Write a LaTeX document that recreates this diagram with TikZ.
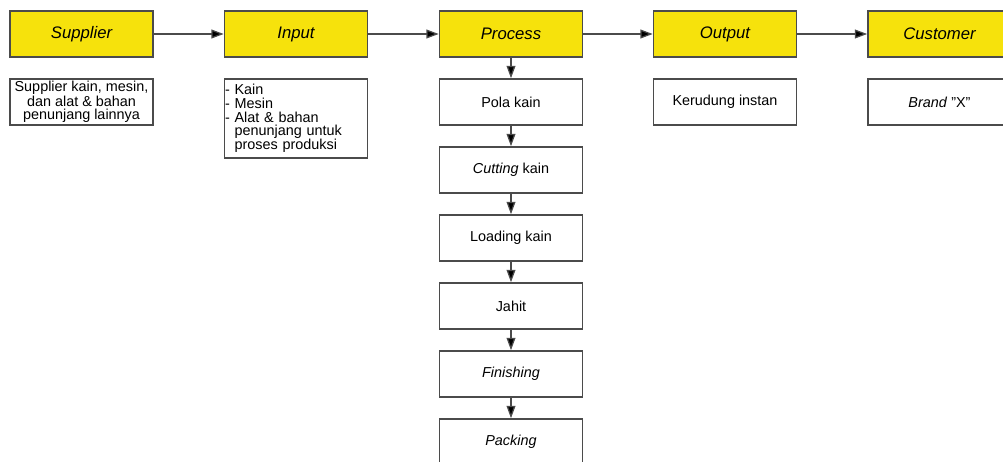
\documentclass[tikz,border=0pt]{standalone}
\usepackage{fontspec}
\setmainfont{Liberation Sans}
\usetikzlibrary{arrows.meta, positioning}
\definecolor{headyellow}{RGB}{246,226,12}
\definecolor{edgegray}{RGB}{75,75,75}

\begin{document}
\begin{tikzpicture}
    \tikzstyle{head} = [rectangle, draw=edgegray, line width=0.9pt, fill=headyellow, minimum width=2.86cm, minimum height=0.92cm, font=\fontsize{9.5}{11}\selectfont\itshape]
    \tikzstyle{box} = [rectangle, draw=edgegray, line width=0.9pt, fill=white, minimum width=2.86cm, minimum height=0.92cm, inner sep=1pt, align=center, font=\fontsize{8.2}{7.6}\selectfont]
    \tikzstyle{arrow} = [line width=0.7pt, draw=edgegray, -{Triangle[length=7pt,width=5pt,fill=black]}]

    \clip (0,0) rectangle (20.06,-9.24);

    % top row
    \node[head] (supplier) at (1.63,-0.68) {Supplier};
    \node[head] (input) at (5.92,-0.68) {Input};
    \node[head] (process) at (10.22,-0.68) {Process};
    \node[head] (output) at (14.5,-0.68) {Output};
    \node[head] (customer) at (18.79,-0.68) {Customer};

    \draw[arrow] (supplier) -- (input);
    \draw[arrow] (input) -- (process);
    \draw[arrow] (process) -- (output);
    \draw[arrow] (output) -- (customer);

    % descriptions
    \node[box] (supplierdesc) at (1.63,-2.04) {Supplier kain, mesin,\\dan alat \& bahan\\penunjang lainnya};
    \node[box, minimum height=1.58cm, align=left, text width=2.84cm, inner xsep=0pt, font=\fontsize{8.2}{7.8}\selectfont] (inputdesc) at (5.92,-2.37) {- Kain\\- Mesin\\- Alat \& bahan\\\hphantom{- }penunjang untuk\\\hphantom{- }proses produksi};
    \node[box] (outputdesc) at (14.5,-2.04) {Kerudung instan};
    \node[box] (customerdesc) at (18.79,-2.04) {\textit{Brand} "X"};

    % process steps
    \node[box] (pola) at (10.22,-2.04) {Pola kain};
    \node[box] (cutting) at (10.22,-3.4) {\textit{Cutting} kain};
    \node[box] (loading) at (10.22,-4.76) {Loading kain};
    \node[box] (jahit) at (10.22,-6.12) {Jahit};
    \node[box] (finishing) at (10.22,-7.48) {\textit{Finishing}};
    \node[box] (packing) at (10.22,-8.84) {\textit{Packing}};

    \draw[arrow] (process) -- (pola);
    \draw[arrow] (pola) -- (cutting);
    \draw[arrow] (cutting) -- (loading);
    \draw[arrow] (loading) -- (jahit);
    \draw[arrow] (jahit) -- (finishing);
    \draw[arrow] (finishing) -- (packing);
\end{tikzpicture}
\end{document}
